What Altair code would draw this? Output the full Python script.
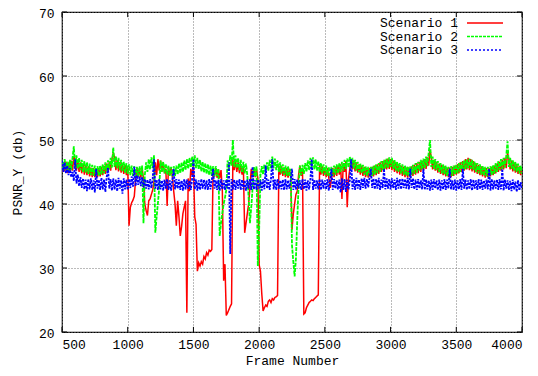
import altair as alt
import pandas as pd

# ---------------- data (every 10 frames) ----------------
frames = list(range(500, 4001, 10))

scenario1 = [
    45.0, 46.5, 45.1, 46.6, 44.8, 46.5, 45.0, 46.8, 45.2, 47.5,
    47.0, 45.2, 46.8, 45.0, 46.5, 44.8, 46.3, 44.6, 46.1, 44.5,
    45.9, 44.3, 45.7, 44.2, 45.6, 44.2, 45.5, 44.2, 45.6, 44.3,
    45.8, 44.5, 46.0, 44.7, 46.3, 45.0, 46.6, 45.2, 47.0, 48.0,
    47.2, 45.3, 46.9, 45.1, 46.6, 44.9, 46.3, 44.7, 46.1, 44.5,
    45.9, 36.6, 39.5, 40.2, 40.6, 41.2, 43.8, 45.7, 44.2, 45.6,
    44.1, 45.5, 44.0, 40.0, 39.0, 38.2, 40.5, 40.8, 41.5, 42.2,
    43.5, 46.5, 44.5, 47.0, 45.2, 46.8, 45.0, 46.5, 44.8, 45.5,
    39.7, 45.8, 44.5, 45.6, 44.3, 42.0, 40.0, 36.6, 40.5, 38.0,
    35.0, 36.5, 38.5, 39.5, 40.5, 23.0, 44.0, 42.0, 45.5, 44.5,
    46.0, 38.0, 36.8, 29.5, 30.8, 30.3, 31.0, 30.6, 31.8, 31.4,
    32.4, 32.0, 32.8, 32.6, 32.9, 45.5, 44.3, 45.6, 44.1, 45.4,
    44.0, 45.3, 42.0, 28.0, 30.6, 22.6, 23.0, 23.5, 24.0, 24.4,
    47.0, 45.3, 46.8, 45.0, 46.5, 44.8, 46.2, 44.6, 45.8, 35.5,
    37.0, 38.5, 40.0, 42.5, 45.5, 44.3, 45.6, 44.2, 45.5, 44.0,
    30.5, 29.5, 26.0, 23.3, 23.8, 24.2, 24.0, 24.8, 25.0, 24.6,
    25.2, 25.0, 25.4, 25.5, 25.7, 46.0, 44.6, 45.9, 44.4, 45.7,
    44.2, 45.6, 44.1, 45.5, 44.5, 36.0, 38.5, 40.0, 41.5, 42.0,
    44.5, 46.0, 44.4, 45.5, 22.8, 23.0, 23.8, 24.2, 24.6, 24.8,
    25.0, 24.9, 25.2, 25.4, 25.6, 25.8, 46.2, 44.6, 45.9, 44.4,
    45.7, 44.2, 45.6, 44.1, 42.5, 44.0, 45.6, 44.2, 45.8, 44.4,
    46.0, 44.6, 46.2, 40.8, 46.4, 45.0, 46.7, 39.5, 44.0, 45.5,
    47.0, 45.4, 46.8, 45.1, 46.5, 44.9, 46.2, 44.6, 46.0, 44.4,
    45.8, 44.2, 45.6, 44.1, 45.6, 44.2, 45.8, 44.3, 46.0, 44.5,
    46.2, 44.7, 46.5, 45.0, 46.7, 45.2, 46.9, 45.4, 47.1, 45.5,
    47.0, 45.3, 46.8, 45.0, 46.5, 44.8, 46.2, 44.6, 46.0, 44.4,
    45.8, 44.2, 45.7, 44.1, 45.7, 44.2, 45.9, 44.4, 46.1, 44.6,
    46.4, 44.8, 46.6, 45.0, 46.8, 45.2, 47.0, 45.5, 47.3, 46.0,
    48.5, 47.2, 45.4, 46.9, 45.2, 46.6, 44.9, 46.3, 44.7, 46.1,
    44.5, 45.9, 44.3, 45.7, 44.2, 45.7, 44.2, 45.8, 44.4, 46.0,
    44.6, 46.2, 44.8, 46.5, 45.0, 46.7, 45.2, 47.0, 45.4, 47.2,
    45.3, 47.0, 45.1, 46.7, 44.9, 46.4, 44.7, 46.1, 44.5, 45.9,
    44.3, 45.7, 44.1, 45.6, 44.2, 45.6, 44.3, 45.8, 44.5, 46.0,
    44.8, 46.3, 45.0, 46.6, 45.2, 46.9, 45.4, 47.2, 45.6, 48.0,
    47.0, 45.4, 46.8, 45.1, 46.5, 44.9, 46.2, 44.7, 45.9, 44.5,
    45.6,
]

scenario2 = [
    46.8, 45.2, 47.0, 45.4, 46.6, 45.0, 46.9, 45.3, 47.2, 49.0,
    45.6, 47.6, 45.5, 47.2, 45.3, 46.9, 45.0, 46.7, 44.9, 46.5,
    44.7, 46.3, 44.5, 46.1, 44.4, 46.0, 44.5, 45.9, 44.4, 46.0,
    44.6, 46.2, 44.8, 46.5, 45.1, 46.8, 45.4, 47.2, 45.7, 48.8,
    45.8, 47.5, 45.6, 47.2, 45.3, 46.9, 45.1, 46.6, 44.9, 46.4,
    44.7, 46.2, 44.5, 46.0, 44.4, 45.9, 44.3, 45.8, 44.3, 45.9,
    44.5, 46.0, 37.0, 44.5, 46.5, 45.0, 47.0, 45.4, 47.3, 45.6,
    47.6, 35.5, 38.0, 40.2, 42.5, 46.8, 45.0, 46.6, 44.8, 46.3,
    44.6, 46.0, 44.4, 45.8, 44.3, 45.9, 44.4, 46.0, 44.6, 46.3,
    44.8, 46.5, 45.0, 46.8, 45.3, 47.0, 45.5, 47.2, 45.7, 47.4,
    45.8, 47.6, 45.6, 47.2, 45.4, 46.9, 45.1, 46.6, 44.9, 46.4,
    44.7, 46.2, 44.5, 46.0, 44.4, 45.9, 44.3, 45.9, 44.4, 45.5,
    35.0, 37.0, 38.6, 40.0, 41.0, 42.2, 46.8, 45.3, 47.6, 46.0,
    50.0, 45.8, 47.6, 45.6, 47.2, 45.3, 46.9, 45.0, 46.6, 44.8,
    46.3, 44.5, 41.0, 37.0, 39.5, 42.5, 45.8, 44.3, 45.9, 30.3,
    36.0, 44.5, 45.9, 44.6, 46.2, 44.9, 46.5, 45.2, 46.9, 45.5,
    47.4, 45.6, 47.1, 45.3, 46.8, 45.0, 46.5, 44.8, 46.2, 44.6,
    46.0, 44.4, 45.9, 44.3, 45.5, 33.5, 31.0, 28.7, 31.5, 37.5,
    42.8, 46.0, 44.5, 46.1, 44.7, 46.4, 45.0, 46.8, 45.3, 47.2,
    45.6, 47.3, 45.4, 47.0, 45.2, 46.7, 45.0, 46.4, 44.8, 46.2,
    44.6, 46.0, 44.4, 45.8, 44.3, 45.8, 44.4, 46.0, 44.6, 46.2,
    44.8, 46.4, 45.0, 46.6, 45.2, 46.9, 45.5, 47.1, 45.7, 47.4,
    45.8, 47.2, 45.5, 46.9, 45.2, 46.6, 45.0, 46.3, 44.8, 46.1,
    44.6, 45.9, 44.4, 45.8, 44.3, 45.8, 44.4, 46.0, 44.6, 46.2,
    44.8, 46.4, 45.0, 46.7, 45.3, 46.9, 45.5, 47.1, 45.7, 47.3,
    45.8, 47.2, 45.5, 46.9, 45.2, 46.6, 45.0, 46.4, 44.8, 46.2,
    44.6, 46.0, 44.4, 45.9, 44.3, 45.9, 44.5, 46.1, 44.7, 46.4,
    44.9, 46.6, 45.2, 46.9, 45.4, 47.1, 45.6, 47.4, 45.9, 48.0,
    50.0, 45.8, 47.4, 45.5, 47.0, 45.3, 46.7, 45.0, 46.4, 44.8,
    46.2, 44.6, 46.0, 44.4, 45.8, 44.3, 45.9, 44.4, 46.0, 44.6,
    46.2, 44.8, 46.4, 45.0, 46.6, 45.2, 46.8, 45.4, 47.0, 45.6,
    47.1, 45.5, 46.9, 45.3, 46.6, 45.0, 46.4, 44.8, 46.2, 44.6,
    46.0, 44.4, 45.8, 44.3, 45.8, 44.3, 45.9, 44.5, 46.1, 44.7,
    46.4, 45.0, 46.7, 45.3, 47.0, 45.5, 47.2, 45.7, 47.5, 49.8,
    45.8, 47.2, 45.5, 46.9, 45.2, 46.6, 45.0, 46.3, 44.8, 46.0,
    44.7,
]

scenario3 = [
    46.8, 45.0, 46.5, 44.8, 46.0, 44.5, 45.6, 44.2, 45.0, 43.6,
    47.0, 43.2, 44.6, 42.8, 44.2, 42.5, 44.0, 42.3, 43.8, 42.0,
    43.9, 42.3, 44.0, 42.2, 43.7, 41.8, 45.5, 42.4, 43.8, 42.2,
    44.1, 42.3, 43.8, 41.9, 44.2, 45.6, 42.4, 43.9, 42.1, 44.0,
    42.3, 43.8, 42.0, 44.1, 42.4, 43.7, 41.6, 44.0, 42.3, 43.8,
    42.2, 43.9, 42.5, 44.3, 42.7, 45.8, 42.8, 44.5, 43.0, 44.3,
    42.8, 44.2, 42.6, 43.9, 42.4, 43.8, 42.3, 43.9, 42.5, 44.0,
    47.0, 42.4, 43.8, 42.2, 43.9, 42.3, 43.7, 42.1, 43.8, 42.4,
    43.9, 42.2, 43.7, 42.1, 43.8, 45.5, 42.3, 43.9, 42.4, 43.8,
    42.2, 43.7, 42.1, 43.9, 42.3, 43.8, 42.4, 43.7, 42.2, 43.9,
    47.0, 42.3, 43.8, 42.1, 43.7, 42.2, 43.9, 42.4, 43.8, 42.3,
    43.7, 42.2, 43.9, 42.3, 43.8, 45.5, 42.4, 43.7, 42.2, 43.8,
    42.1, 43.9, 42.3, 43.7, 42.2, 43.8, 42.4, 46.5, 32.2, 43.9,
    42.3, 43.8, 42.2, 43.7, 42.4, 43.9, 42.2, 43.8, 42.3, 43.7,
    42.1, 43.8, 42.4, 43.9, 42.2, 45.8, 42.3, 43.7, 42.2, 43.8,
    42.4, 43.7, 42.1, 43.9, 42.3, 46.0, 42.4, 43.8, 42.2, 43.9,
    47.0, 42.3, 43.8, 42.2, 43.9, 42.4, 43.7, 42.3, 43.8, 42.2,
    43.9, 42.3, 43.7, 42.4, 43.8, 45.5, 42.2, 43.9, 42.3, 43.8,
    42.4, 43.7, 42.2, 43.9, 42.3, 43.8, 42.1, 43.7, 42.3, 43.9,
    47.0, 42.2, 43.8, 42.4, 43.7, 42.3, 43.9, 42.2, 43.8, 42.4,
    43.7, 42.3, 43.9, 42.1, 43.8, 45.5, 42.2, 43.9, 42.4, 43.7,
    42.3, 43.8, 41.8, 44.0, 42.2, 43.9, 41.9, 43.8, 42.3, 43.7,
    47.0, 42.3, 43.9, 42.2, 44.1, 42.4, 43.8, 42.2, 44.0, 42.5,
    44.1, 42.4, 43.9, 42.6, 44.2, 45.5, 42.5, 44.0, 42.3, 43.9,
    42.4, 44.1, 42.2, 43.8, 42.5, 45.5, 42.3, 44.0, 42.4, 43.9,
    42.3, 44.0, 42.5, 43.8, 42.2, 44.1, 42.4, 43.9, 42.3, 44.0,
    42.5, 43.9, 42.4, 44.1, 42.3, 45.5, 42.5, 44.0, 42.3, 43.8,
    42.2, 43.9, 42.4, 43.7, 42.3, 45.5, 42.2, 43.8, 42.3, 43.7,
    42.1, 43.8, 42.2, 43.9, 42.4, 43.7, 42.2, 43.8, 42.1, 43.7,
    42.3, 43.9, 42.2, 43.8, 42.4, 45.5, 42.3, 43.7, 42.2, 43.8,
    42.1, 43.7, 42.3, 43.9, 42.2, 45.5, 42.4, 43.8, 42.2, 43.7,
    42.3, 43.9, 42.1, 43.8, 42.4, 43.7, 42.2, 43.9, 42.3, 43.8,
    42.2, 43.7, 42.4, 43.8, 42.3, 45.5, 42.1, 43.9, 42.3, 43.7,
    42.4, 43.8, 42.2, 43.9, 42.3, 45.5, 42.1, 43.8, 42.4, 43.7,
    42.2, 43.6, 42.0, 43.8, 42.3, 43.5, 41.9, 43.7, 42.1, 43.4,
    42.3,
]

series_names = ["Scenario 1", "Scenario 2", "Scenario 3"]
series_values = [scenario1, scenario2, scenario3]
colors = ["#ff0000", "#00ff00", "#0000ff"]
dashes = [[1, 0], [4, 1.2], [2.5, 1.2]]
widths = [1.5, 1.8, 1.8]
key_dashes = [[1, 0], [3, 1], [2, 2]]
x_ticks = [500, 1000, 1500, 2000, 2500, 3000, 3500, 4000]
y_ticks = [20, 30, 40, 50, 60, 70]

W, H = 460, 320
FONT = "Liberation Mono"

xscale = alt.Scale(domain=[500, 4000], nice=False, zero=False)
yscale = alt.Scale(domain=[20, 70], nice=False, zero=False)

layers = []

# tiny inward ticks on all four sides (gnuplot style)
xt = pd.DataFrame({"x": x_ticks})
yt = pd.DataFrame({"y": y_ticks})
layers.append(alt.Chart(xt).mark_rule(color="black", strokeWidth=1).encode(
    x=alt.X("x:Q", scale=xscale, axis=alt.Axis(values=x_ticks, title="Frame Number", format="d",
                                                  grid=True, ticks=False, domain=False,
                                                  labelPadding=6, titleY=32,
                                                  titleBaseline="alphabetic")),
    y=alt.YDatum(20, scale=yscale, axis=alt.Axis(values=y_ticks, title="PSNR_Y (db)", grid=True,
                                                  ticks=False, domain=False, labelPadding=8,
                                                  labelOffset=1, titlePadding=14)),
    y2=alt.Y2Datum(20.8)))
layers.append(alt.Chart(xt).mark_rule(color="black", strokeWidth=1).encode(
    x=alt.X("x:Q", scale=xscale), y=alt.YDatum(69.2, scale=yscale), y2=alt.Y2Datum(70)))
layers.append(alt.Chart(yt).mark_rule(color="black", strokeWidth=1).encode(
    y=alt.Y("y:Q", scale=yscale), x=alt.XDatum(500, scale=xscale), x2=alt.X2Datum(538)))
layers.append(alt.Chart(yt).mark_rule(color="black", strokeWidth=1).encode(
    y=alt.Y("y:Q", scale=yscale), x=alt.XDatum(3962, scale=xscale), x2=alt.X2Datum(4000)))

for name, vals, col, dash, wd in zip(series_names, series_values, colors, dashes, widths):
    assert len(vals) == len(frames), (name, len(vals))
    df = pd.DataFrame({"frame": frames, "psnr": vals})
    layers.append(alt.Chart(df).mark_line(color=col, strokeWidth=wd, strokeDash=dash,
                                          clip=True, interpolate="linear").encode(
        x=alt.X("frame:Q", scale=xscale),
        y=alt.Y("psnr:Q", scale=yscale),
        order="frame:Q"))

# key (gnuplot style: label on the left, line sample on the right)
for i, (name, col, dash) in enumerate(zip(series_names, colors, key_dashes)):
    ypix = 11 + 13.5 * i
    kd = pd.DataFrame({"name": [name]})
    layers.append(alt.Chart(kd).mark_text(align="right", baseline="middle", font=FONT,
                                          fontSize=13, color="black").encode(
        text="name:N", x=alt.value(396), y=alt.value(ypix)))
    layers.append(alt.Chart(kd).mark_rule(color=col, strokeWidth=1.6, strokeDash=dash).encode(
        x=alt.value(405), x2=alt.value(441), y=alt.value(ypix)))

chart = alt.layer(*layers).properties(
    width=W, height=H,
    autosize=alt.AutoSizeParams(type="none"),
    padding={"left": 54, "top": 4, "right": 8, "bottom": 36},
    background="white",
).configure_axis(
    labelFont=FONT, titleFont=FONT, labelFontSize=13, titleFontSize=13,
    titleFontWeight="normal", labelColor="black", titleColor="black",
    gridColor="#777777", gridDash=[1, 2], gridWidth=1, gridOpacity=1,
).configure_view(stroke="black", strokeWidth=1.2)

chart.save("out.html", embed_options={"renderer": "svg", "actions": False})
